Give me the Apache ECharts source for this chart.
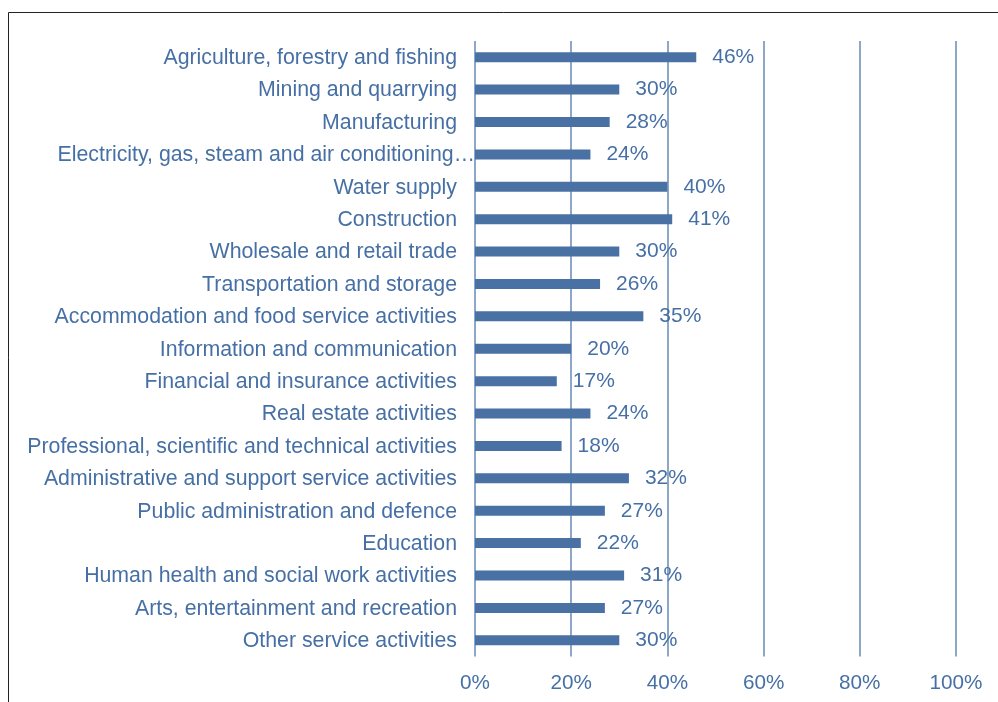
<!DOCTYPE html>
<html>
<head>
<meta charset="utf-8">
<script src="https://cdn.jsdelivr.net/npm/echarts@6/dist/echarts.min.js"></script>
<style>html,body{margin:0;padding:0;background:#fff}#c{width:998px;height:702px}</style>
</head>
<body>
<div id="c"></div>
<script>
const categories = [
  "Agriculture, forestry and fishing",
  "Mining and quarrying",
  "Manufacturing",
  "Electricity, gas, steam and air conditioning…",
  "Water supply",
  "Construction",
  "Wholesale and retail trade",
  "Transportation and storage",
  "Accommodation and food service activities",
  "Information and communication",
  "Financial and insurance activities",
  "Real estate activities",
  "Professional, scientific and technical activities",
  "Administrative and support service activities",
  "Public administration and defence",
  "Education",
  "Human health and social work activities",
  "Arts, entertainment and recreation",
  "Other service activities"
];
const values = [46, 30, 28, 24, 40, 41, 30, 26, 35, 20, 17, 24, 18, 32, 27, 22, 31, 27, 30];
const xTicks = [0, 20, 40, 60, 80, 100];

const textColor = '#4670A5';
const barColor = '#4A71A3';
const gridColor = '#8DA7C8';
const font = 'Liberation Sans, Arial, sans-serif';

const chart = echarts.init(document.getElementById('c'), null, {renderer: 'canvas'});
chart.setOption({
  animation: false,
  backgroundColor: '#fff',
  graphic: [{
    type: 'rect', shape: {x: 8.5, y: 12.5, width: 1100, height: 800},
    style: {fill: 'none', stroke: '#222', lineWidth: 1}, silent: true, z: -1
  }],
  grid: {left: 475, right: 42, top: 41, bottom: 45.5, containLabel: false},
  xAxis: {
    type: 'value', min: xTicks[0], max: xTicks[xTicks.length - 1], interval: 20,
    axisLine: {show: false}, axisTick: {show: false},
    splitLine: {show: true, lineStyle: {color: gridColor, width: 2}},
    axisLabel: {color: textColor, fontSize: 20.7, fontFamily: font, margin: 16,
      formatter: v => v + '%'}
  },
  yAxis: {
    type: 'category', data: categories, inverse: true,
    axisLine: {show: false}, axisTick: {show: false},
    axisLabel: {color: textColor, fontSize: 21.3, fontFamily: font, margin: 18,
      padding: [2, 0, 0, 0],
      formatter: v => v.endsWith('…') ? '{e|' + v + '}' : v,
      rich: {e: {color: textColor, fontSize: 21.3, fontFamily: font, padding: [0, -18, 0, 0]}}}
  },
  series: [{
    type: 'bar', data: values, barWidth: 10,
    itemStyle: {color: barColor},
    label: {show: true, position: 'right', distance: 16, color: textColor,
      padding: [2, 0, 0, 0],
      fontSize: 21, fontFamily: font, formatter: p => p.value + '%'}
  }]
});
</script>
</body>
</html>
